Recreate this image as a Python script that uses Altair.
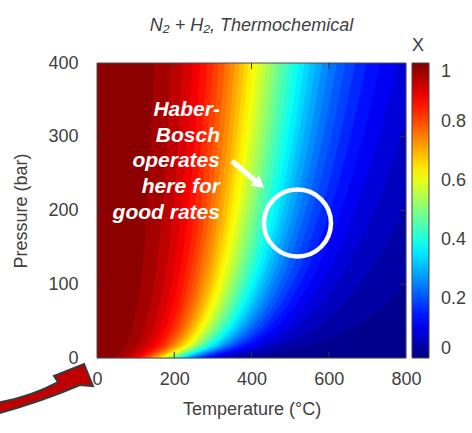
import altair as alt
import pandas as pd

# ---------------- data read from the reference map ----------------
# pressure rows (bar); the 0 row is the visible bottom edge of the map
pressures = [0, 7, 15, 30, 60, 100, 150, 200, 300, 400]

# conversion levels X (contours) and the temperature (°C) where each is reached
levels = [0.975, 0.95, 0.925, 0.90, 0.875, 0.85, 0.825, 0.80, 0.775, 0.75,
          0.725, 0.70, 0.675, 0.65, 0.625, 0.60, 0.575, 0.55, 0.525, 0.50,
          0.475, 0.45, 0.425, 0.40, 0.375, 0.35, 0.325, 0.30, 0.275, 0.25,
          0.225, 0.20, 0.175, 0.15, 0.125, 0.10, 0.075, 0.05, 0.025]
contour_T = [
    [43, 58, 72, 85, 100, 112, 122, 129, 140, 148],
    [67, 84, 100, 117, 134, 148, 160, 169, 182, 192],
    [83, 102, 120, 138, 157, 173, 187, 197, 211, 223],
    [96, 115, 135, 154, 175, 193, 207, 218, 234, 247],
    [106, 126, 147, 168, 190, 209, 225, 236, 254, 267],
    [115, 136, 158, 180, 204, 223, 240, 252, 271, 285],
    [122, 145, 168, 190, 216, 236, 254, 267, 286, 301],
    [129, 153, 176, 200, 226, 248, 266, 280, 301, 316],
    [136, 160, 185, 209, 237, 259, 278, 292, 314, 331],
    [142, 167, 192, 218, 246, 269, 289, 304, 327, 344],
    [148, 174, 199, 226, 255, 279, 300, 315, 339, 357],
    [153, 180, 206, 233, 264, 289, 310, 326, 351, 369],
    [159, 186, 213, 241, 272, 298, 320, 337, 362, 381],
    [164, 191, 219, 248, 280, 307, 330, 347, 373, 393],
    [169, 197, 226, 255, 288, 315, 339, 357, 384, 405],
    [173, 202, 232, 262, 296, 324, 348, 367, 395, 416],
    [178, 208, 238, 269, 304, 333, 358, 376, 405, 427],
    [183, 213, 244, 276, 311, 341, 367, 386, 416, 439],
    [188, 218, 250, 282, 319, 349, 376, 396, 427, 450],
    [192, 224, 256, 289, 327, 358, 385, 406, 437, 462],
    [197, 229, 262, 296, 335, 367, 395, 416, 448, 473],
    [202, 234, 268, 303, 343, 375, 404, 426, 459, 485],
    [206, 240, 274, 310, 351, 384, 414, 436, 471, 497],
    [211, 245, 281, 317, 359, 393, 424, 447, 483, 510],
    [216, 251, 287, 325, 367, 403, 434, 458, 495, 523],
    [221, 257, 294, 332, 376, 413, 445, 470, 508, 537],
    [227, 263, 301, 340, 385, 423, 456, 482, 521, 551],
    [232, 270, 308, 349, 395, 434, 468, 495, 535, 567],
    [238, 277, 316, 358, 406, 446, 481, 509, 551, 583],
    [245, 284, 325, 368, 417, 458, 495, 523, 567, 601],
    [251, 292, 334, 378, 429, 472, 510, 540, 585, 621],
    [259, 301, 344, 390, 443, 487, 527, 558, 606, 643],
    [267, 310, 355, 403, 458, 505, 546, 579, 629, 668],
    [277, 322, 368, 418, 476, 525, 569, 603, 656, 698],
    [288, 335, 384, 436, 497, 549, 595, 632, 689, 733],
    [302, 351, 403, 458, 523, 579, 629, 668, 730, 779],
    [320, 372, 428, 487, 558, 619, 674, 718, 786, 841],
    [347, 404, 465, 531, 611, 680, 743, 794, 874, 938],
    [395, 462, 536, 616, 714, 801, 882, 947, 1053, 1140],
]
# X value of the band lying just to the right of each contour
band_X = [0.9625, 0.9375, 0.9125, 0.8875, 0.8625, 0.8375, 0.8125, 0.7875, 0.7625, 0.7375,
          0.7125, 0.6875, 0.6625, 0.6375, 0.6125, 0.5875, 0.5625, 0.5375, 0.5125, 0.4875,
          0.4625, 0.4375, 0.4125, 0.3875, 0.3625, 0.3375, 0.3125, 0.2875, 0.2625, 0.2375,
          0.2125, 0.1875, 0.1625, 0.1375, 0.1125, 0.0875, 0.0625, 0.0375, 0.0125]
top_band_X = 0.9875  # band left of the 0.975 contour

x_ticks = [0, 200, 400, 600, 800]
y_ticks = [0, 100, 200, 300, 400]
cbar_ticks = [0, 0.2, 0.4, 0.6, 0.8, 1]

note_lines = ["Haber-", "Bosch", "operates", "here for", "good rates"]
title_text = "N\u2082 + H\u2082, Thermochemical"

# ---------------- tables ----------------
rows = []
for k, temps in enumerate(contour_T):
    for p, t in zip(pressures, temps):
        rows.append({"k": k, "level": levels[k], "P": p, "T": t, "X": band_X[k]})
contours = pd.DataFrame(rows)
top_df = pd.DataFrame({"P": pressures, "X": [top_band_X] * len(pressures)})
xt_df = pd.DataFrame({"t": x_ticks[1:-1]})
yt_df = pd.DataFrame({"t": y_ticks[1:-1]})
ct_df = pd.DataFrame({"v": cbar_ticks[1:-1]})
ct_df["P"] = ct_df["v"] * y_ticks[-1]
one = pd.DataFrame({"k": [0]})

# ---------------- styling ----------------
W, H = 309, 295
FONT = "Liberation Sans"
GREY = "#404040"

xscale = alt.Scale(domain=[0, 800], nice=False, zero=False)
yscale = alt.Scale(domain=[0, 400], nice=False, zero=False)
jet = alt.Scale(domain=[0, 0.125, 0.375, 0.625, 0.875, 1],
                range=["#00007f", "#0000ff", "#00ffff", "#ffff00", "#ff0000", "#7f0000"],
                interpolate="rgb")

xaxis = alt.Axis(values=x_ticks, title="Temperature (°C)", ticks=False, tickSize=0,
                 domain=False, grid=False, labelPadding=12, titlePadding=12,
                 labelFontSize=18, titleFontSize=18, titleFontWeight="normal",
                 labelColor=GREY, titleColor=GREY, labelFont=FONT, titleFont=FONT,
                 labelFlush=False, labelOverlap=False)
yaxis = alt.Axis(values=y_ticks, title="Pressure (bar)", ticks=False, tickSize=0,
                 domain=False, grid=False, labelPadding=19, titlePadding=17,
                 labelFontSize=18, titleFontSize=18, titleFontWeight="normal",
                 labelColor=GREY, titleColor=GREY, labelFont=FONT, titleFont=FONT,
                 labelFlush=False, labelOverlap=False)
legend = alt.Legend(title="X", orient="none", legendX=315, legendY=-26,
                    direction="vertical", gradientLength=H, gradientThickness=17,
                    values=cbar_ticks, format="~g", labelFontSize=18, titleFontSize=18,
                    titleFontWeight="normal", labelColor=GREY, titleColor=GREY,
                    labelFont=FONT, titleFont=FONT, labelOffset=12, titlePadding=8,
                    labelBaseline="middle",
                    gradientStrokeColor="#444444", gradientStrokeWidth=1)

Y = alt.Y("P:Q", scale=yscale, axis=yaxis)
COLOR = alt.Color("X:Q", scale=jet, legend=legend)

layers = []
# left-most (darkest red) band over the whole map
layers.append(
    alt.Chart(top_df).mark_area(orient="horizontal", clip=True).encode(
        y=Y, x=alt.datum(x_ticks[0]), x2=alt.datum(x_ticks[-1]), color=COLOR)
)
# every contour paints its lower band from the contour to the right edge
for k in range(len(levels)):
    layers.append(
        alt.Chart(contours).transform_filter(alt.datum.k == k)
        .mark_area(orient="horizontal", interpolate="monotone", clip=True)
        .encode(y=Y, x=alt.X("T:Q", stack=None, scale=xscale, axis=xaxis),
                x2=alt.datum(x_ticks[-1]), color=COLOR)
    )

# frame and inside ticks
layers.append(alt.Chart(one).mark_rect(filled=False, stroke="#4d4d4d", strokeWidth=1).encode(
    x=alt.value(0), x2=alt.value(W), y=alt.value(0), y2=alt.value(H)))
XT = alt.X("t:Q", scale=xscale, axis=xaxis)
YT = alt.Y("t:Q", scale=yscale, axis=yaxis)
layers.append(alt.Chart(xt_df).mark_rule(color="#333333").encode(x=XT, y=alt.value(H), y2=alt.value(H - 6)))
layers.append(alt.Chart(xt_df).mark_rule(color="#333333").encode(x=XT, y=alt.value(0), y2=alt.value(6)))
layers.append(alt.Chart(yt_df).mark_rule(color="#333333").encode(y=YT, x=alt.value(0), x2=alt.value(6)))
layers.append(alt.Chart(yt_df).mark_rule(color="#333333").encode(y=YT, x=alt.value(W), x2=alt.value(W - 6)))
# colour-bar ticks
layers.append(alt.Chart(ct_df).mark_rule(color="#333333", clip=False).encode(
    y=alt.Y("P:Q", scale=yscale, axis=yaxis), x=alt.value(327), x2=alt.value(332)))

# annotation: text, white arrow, circle
layers.append(alt.Chart(one).mark_text(
    text=note_lines, align="right", baseline="middle", lineHeight=25.7, font=FONT,
    fontSize=21, fontWeight="bold", fontStyle="italic", color="white").encode(
    x=alt.datum(318.4), y=alt.datum(336.3)))
layers.append(alt.Chart(one).mark_rule(color="white", strokeWidth=5).encode(
    x=alt.datum(349.5), y=alt.datum(267.1), x2=alt.datum(414), y2=alt.datum(238.6)))
layers.append(alt.Chart(one).mark_point(shape="triangle-right", filled=True, color="white",
                                        size=196, angle=40, opacity=1).encode(
    x=alt.datum(420.5), y=alt.datum(235.7)))
layers.append(alt.Chart(one).mark_point(shape="circle", filled=False, color="white",
                                        strokeWidth=4.5, size=4489, opacity=1).encode(
    x=alt.datum(519), y=alt.datum(183)))

# red curved arrow pointing at the origin
ARROW = ("M-0.96,0.30 Q-0.28,0.18 0.28,-0.12 L0.2,-0.24 L0.8,-0.48 L0.98,-0.04 "
         "L0.72,-0.06 Q-0.08,0.28 -0.96,0.52 Z")
layers.append(alt.Chart(one).mark_point(shape=ARROW, filled=True, fill="#c00000",
                                        stroke="#3a3a3a", strokeWidth=2, size=10000,
                                        opacity=1, clip=False).encode(
    x=alt.datum(-137.2), y=alt.datum(-40.7)))

chart = alt.layer(*layers).properties(
    width=W, height=H,
    autosize=alt.AutoSizeParams(type="none"),
    padding={"left": 97, "top": 63, "right": 66, "bottom": 75},
    title=alt.TitleParams(text=title_text, font=FONT, fontSize=18, fontStyle="italic",
                          fontWeight="normal", color=GREY, anchor="middle", dy=2),
).configure_view(stroke=None).configure(background="white")

chart.save("out.html", embed_options={"renderer": "svg", "actions": False})
